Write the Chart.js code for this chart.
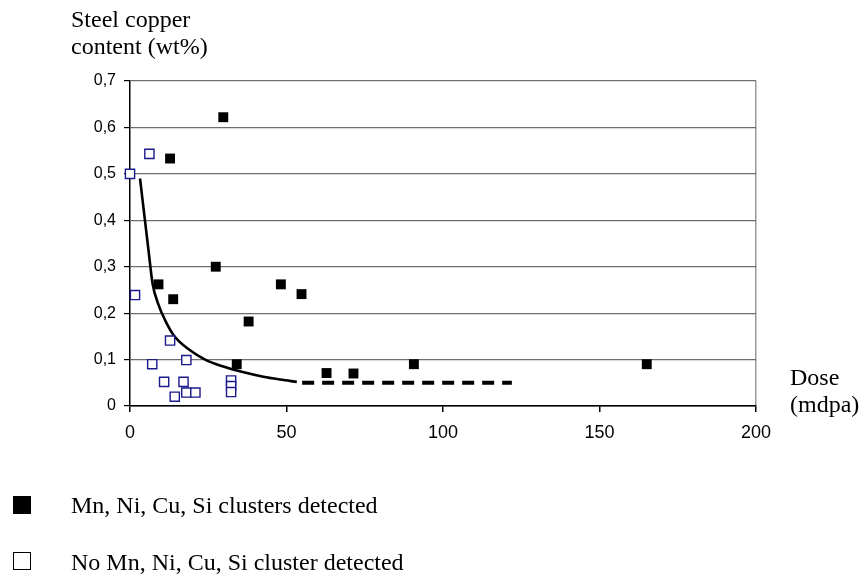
<!DOCTYPE html>
<html>
<head>
<meta charset="utf-8">
<script src="https://cdn.jsdelivr.net/npm/chart.js@4/dist/chart.umd.min.js"></script>
<style>
  html, body { margin: 0; padding: 0; background: #fff; }
  #wrap { position: relative; width: 868px; height: 574px; }
  #chart { position: absolute; left: 0; top: 0; }
  .lbl { position: absolute; font-family: "Liberation Serif", "Times New Roman", serif; font-size: 24px; line-height: 27px; color: #000; white-space: nowrap; }
  .sw { position: absolute; width: 18px; height: 18px; box-sizing: border-box; }
</style>
</head>
<body>
<div id="wrap">
  <canvas id="chart" width="868" height="574"></canvas>
  <div class="lbl" style="left:71px; top:6px;">Steel copper<br>content (wt%)</div>
  <div class="lbl" style="left:790px; top:364px;">Dose<br>(mdpa)</div>
  <div class="sw" style="left:13px; top:496px; background:#000;"></div>
  <div class="lbl" style="left:71px; top:492px;">Mn, Ni, Cu, Si clusters detected</div>
  <div class="sw" style="left:13px; top:552px; border:1.5px solid #000;"></div>
  <div class="lbl" style="left:71px; top:549px;">No Mn, Ni, Cu, Si cluster detected</div>
</div>
<script>
// Clusters detected (filled squares)
const clusterDose = [12.8, 29.8, 9.1, 13.8, 27.4, 48.2, 54.8, 37.9, 34.1, 62.8, 71.4, 90.7, 165.1];
const clusterCu   = [0.533, 0.622, 0.262, 0.23, 0.30, 0.262, 0.241, 0.182, 0.09, 0.071, 0.07, 0.09, 0.09];

// No clusters detected (open squares)
const noClusterDose = [0, 6.2, 1.6, 7.1, 10.9, 12.8, 14.3, 17.1, 18.0, 18.0, 20.9, 32.3, 32.3, 32.3];
const noClusterCu   = [0.50, 0.543, 0.239, 0.09, 0.052, 0.141, 0.02, 0.052, 0.099, 0.029, 0.029, 0.055, 0.043, 0.03];

// Threshold curve (solid) and its extension (dashed)
const curveDose = [3.2, 5.9, 7.2, 9.0, 11.2, 14.0, 19.2, 24.0, 29.8, 36.0, 42.6, 48.0, 53.3];
const curveCu   = [0.49, 0.336, 0.264, 0.22, 0.185, 0.152, 0.12, 0.10, 0.085, 0.073, 0.063, 0.057, 0.052];
const dashDose  = [55, 122];
const dashCu    = [0.05, 0.05];

// Axis ticks
const xTicks = [0, 50, 100, 150, 200];
const yTicks = [0, 0.1, 0.2, 0.3, 0.4, 0.5, 0.6, 0.7];

const toPoints = (xs, ys) => xs.map((x, i) => ({ x, y: ys[i] }));

new Chart(document.getElementById('chart'), {
  type: 'scatter',
  data: {
    datasets: [
      {
        label: 'Mn, Ni, Cu, Si clusters detected',
        data: toPoints(clusterDose, clusterCu),
        pointStyle: 'rect',
        pointRadius: 7,
        backgroundColor: '#000',
        borderColor: '#000',
        borderWidth: 0,
        clip: false
      },
      {
        label: 'No Mn, Ni, Cu, Si cluster detected',
        data: toPoints(noClusterDose, noClusterCu),
        pointStyle: 'rect',
        pointRadius: 6.5,
        backgroundColor: '#fff',
        borderColor: '#1a1a8c',
        borderWidth: 1.4,
        clip: false
      },
      {
        type: 'line',
        data: toPoints(curveDose, curveCu),
        borderColor: '#000',
        borderWidth: 2.6,
        pointRadius: 0,
        cubicInterpolationMode: 'monotone',
        fill: false
      },
      {
        type: 'line',
        data: toPoints(dashDose, dashCu),
        borderColor: '#000',
        borderWidth: 4,
        borderDash: [12, 8],
        pointRadius: 0,
        fill: false
      }
    ]
  },
  options: {
    responsive: false,
    animation: false,
    layout: { padding: { left: 0, top: 81, right: 112, bottom: 128 } },
    plugins: { legend: { display: false }, tooltip: { enabled: false } },
    scales: {
      x: {
        type: 'linear',
        min: 0,
        max: 200,
        afterBuildTicks: s => { s.ticks = xTicks.map(v => ({ value: v })); },
        afterFit: s => { s.height = 40; },
        ticks: { color: '#000', padding: 10, font: { family: 'Liberation Sans, Arial', size: 18 } },
        grid: {
          color: c => (c.tick && c.tick.value === 200 ? '#999' : 'rgba(0,0,0,0)'),
          tickColor: '#000',
          tickLength: 6,
          lineWidth: 1.5
        },
        border: { display: true, color: '#000', width: 1.5 }
      },
      y: {
        min: 0,
        max: 0.7,
        afterBuildTicks: s => { s.ticks = yTicks.map(v => ({ value: v })); },
        afterFit: s => { s.width = 130; },
        ticks: {
          color: '#000',
          padding: 8,
          font: { family: 'Liberation Sans, Arial', size: 16 },
          callback: v => (v === 0 ? '0' : v.toFixed(1).replace('.', ','))
        },
        grid: {
          color: c => (c.tick && c.tick.value === 0 ? '#000' : '#6e6e6e'),
          tickColor: '#000',
          tickLength: 6,
          lineWidth: 1.2
        },
        border: { display: true, color: '#000', width: 1.5 }
      }
    }
  }
});
</script>
</body>
</html>
